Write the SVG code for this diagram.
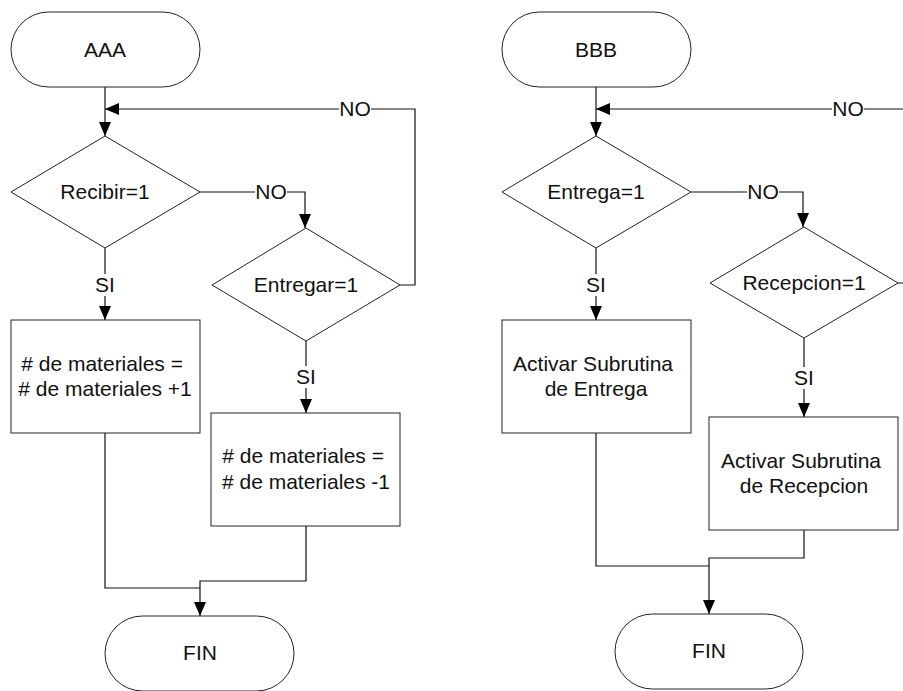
<svg xmlns="http://www.w3.org/2000/svg" width="903" height="691" viewBox="0 0 903 691">
  <style>
    .shape { fill: #ffffff; stroke: #222222; stroke-width: 1; }
    .wire { fill: none; stroke: #111111; stroke-width: 1.2; }
    .lbl { font-family: "Liberation Sans", Arial, sans-serif; font-size: 21px; fill: #111111; text-anchor: middle; }
    .bg { fill: #ffffff; stroke: none; }
  </style>
  <defs>
    <marker id="arrow" markerUnits="userSpaceOnUse" markerWidth="14" markerHeight="14" viewBox="0 0 14 12" refX="14" refY="6" orient="auto">
      <path d="M0,0 L14,6 L0,12 z" fill="#000000"/>
    </marker>
  </defs>

  <rect width="903" height="691" fill="#ffffff"/>

  <!-- connectors -->
  <g id="connectors">
    <!-- left flow -->
    <path class="wire" d="M105,87 V136" marker-end="url(#arrow)"/>
    <path class="wire" d="M400,285 H415 V109 H105" marker-end="url(#arrow)"/>
    <path class="wire" d="M200,192 H305 V228" marker-end="url(#arrow)"/>
    <path class="wire" d="M105,248 V320" marker-end="url(#arrow)"/>
    <path class="wire" d="M306,341 V413" marker-end="url(#arrow)"/>
    <path class="wire" d="M105,433 V588 H200"/>
    <path class="wire" d="M306,526 V581 H200 V616" marker-end="url(#arrow)"/>

    <!-- right flow -->
    <path class="wire" d="M596,87 V136" marker-end="url(#arrow)"/>
    <path class="wire" d="M898,283 H905 V109 H596" marker-end="url(#arrow)"/>
    <path class="wire" d="M691,192 H803 V227" marker-end="url(#arrow)"/>
    <path class="wire" d="M596,248 V320" marker-end="url(#arrow)"/>
    <path class="wire" d="M804,338 V417" marker-end="url(#arrow)"/>
    <path class="wire" d="M596,433 V566 H709"/>
    <path class="wire" d="M804,530 V558 H709 V614" marker-end="url(#arrow)"/>

    <!-- branch labels -->
    <rect class="bg" x="339" y="98" width="32" height="22"/>
    <text class="lbl" x="355" y="116">NO</text>
    <rect class="bg" x="255" y="181" width="32" height="22"/>
    <text class="lbl" x="271" y="199">NO</text>
    <rect class="bg" x="95" y="274" width="20" height="22"/>
    <text class="lbl" x="105" y="292">SI</text>
    <rect class="bg" x="296" y="366" width="20" height="22"/>
    <text class="lbl" x="306" y="384">SI</text>

    <rect class="bg" x="832" y="98" width="32" height="22"/>
    <text class="lbl" x="848" y="116">NO</text>
    <rect class="bg" x="747" y="181" width="32" height="22"/>
    <text class="lbl" x="763" y="199">NO</text>
    <rect class="bg" x="586" y="274" width="20" height="22"/>
    <text class="lbl" x="596" y="292">SI</text>
    <rect class="bg" x="794" y="367" width="20" height="22"/>
    <text class="lbl" x="804" y="385">SI</text>
  </g>

  <!-- left chart nodes -->
  <g id="start-aaa">
    <rect class="shape" x="11" y="12" width="189" height="75" rx="37.5" ry="37.5"/>
    <text class="lbl" x="105" y="57">AAA</text>
  </g>
  <g id="dec-recibir">
    <polygon class="shape" points="105,136 200,192 105,248 11,192"/>
    <text class="lbl" x="105" y="199">Recibir=1</text>
  </g>
  <g id="dec-entregar">
    <polygon class="shape" points="306,228 400,285 306,341 212,285"/>
    <text class="lbl" x="306" y="292">Entregar=1</text>
  </g>
  <g id="proc-sumar">
    <rect class="shape" x="11" y="320" width="189" height="113"/>
    <text class="lbl" x="105" y="371">
      <tspan x="105"># de materiales =</tspan>
      <tspan x="105" dy="25"># de materiales +1</tspan>
    </text>
  </g>
  <g id="proc-restar">
    <rect class="shape" x="211" y="413" width="189" height="113"/>
    <text class="lbl" x="306" y="463">
      <tspan x="306"># de materiales =</tspan>
      <tspan x="306" dy="26"># de materiales -1</tspan>
    </text>
  </g>
  <g id="end-left">
    <rect class="shape" x="105" y="616" width="189" height="75" rx="37.5" ry="37.5"/>
    <text class="lbl" x="200" y="660">FIN</text>
  </g>

  <!-- right chart nodes -->
  <g id="start-bbb">
    <rect class="shape" x="502" y="12" width="189" height="75" rx="37.5" ry="37.5"/>
    <text class="lbl" x="596" y="57">BBB</text>
  </g>
  <g id="dec-entrega">
    <polygon class="shape" points="596,136 691,192 596,248 502,192"/>
    <text class="lbl" x="596" y="199">Entrega=1</text>
  </g>
  <g id="dec-recepcion">
    <polygon class="shape" points="804,227 898,283 804,338 710,283"/>
    <text class="lbl" x="804" y="290">Recepcion=1</text>
  </g>
  <g id="proc-entrega">
    <rect class="shape" x="502" y="320" width="189" height="113"/>
    <text class="lbl" x="596" y="371">
      <tspan x="596">Activar Subrutina</tspan>
      <tspan x="596" dy="25">de Entrega</tspan>
    </text>
  </g>
  <g id="proc-recepcion">
    <rect class="shape" x="709" y="417" width="189" height="113"/>
    <text class="lbl" x="804" y="468">
      <tspan x="804">Activar Subrutina</tspan>
      <tspan x="804" dy="25">de Recepcion</tspan>
    </text>
  </g>
  <g id="end-right">
    <rect class="shape" x="615" y="614" width="188" height="75" rx="37.5" ry="37.5"/>
    <text class="lbl" x="709" y="658">FIN</text>
  </g>
</svg>
